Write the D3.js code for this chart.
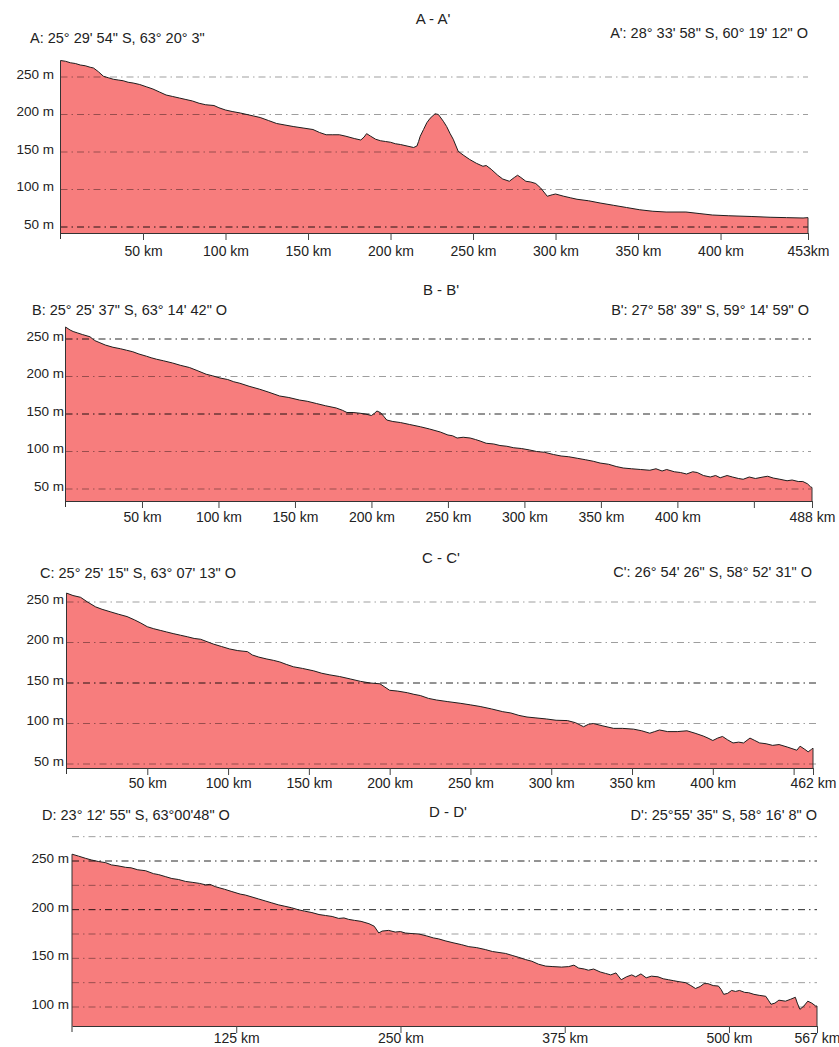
<!DOCTYPE html>
<html>
<head>
<meta charset="utf-8">
<script src="https://cdn.jsdelivr.net/npm/d3@7"></script>
<style>
  html, body { margin: 0; padding: 0; background: #fff; }
  svg text { font-family: "Liberation Sans", Arial, sans-serif; fill: #222; }
</style>
</head>
<body>
<div id="chart"></div>
<script>
// profile A - A'
const aKm = [0, 3, 6, 9, 12, 15, 18, 20, 23, 26, 29, 32, 35, 38, 41, 44, 48, 52, 56, 60, 64, 68, 72, 76, 80, 84, 88, 93, 96, 100,
  104, 109, 113, 117, 121, 126, 131, 136, 141, 147, 153, 157, 161, 165, 169, 173, 178, 182, 184, 185.5, 188, 191, 194, 197, 200,
  203, 206, 210, 214, 216, 217, 218, 220, 222, 224, 227, 229, 230, 232, 234, 236, 238, 241, 244, 248, 252, 256, 258, 261, 265,
  268, 272, 275, 277, 279, 282, 285, 288, 291, 295, 298, 300, 305, 309, 313, 320, 327, 335, 343, 351, 359, 367, 379, 387, 395,
  405, 419, 430, 440, 450, 453];
const aElev = [272, 271, 269, 268, 266, 265, 263, 262, 257, 251, 249, 247, 246, 245, 243, 242, 240, 237, 234, 230, 226, 224, 222, 220, 218, 215, 213, 212, 209, 206,
  204, 202, 200, 198, 196, 192, 188, 186, 184, 182, 180, 176, 173, 173, 173, 171, 168, 166, 170, 174.5, 171, 167, 165, 164, 163,
  161, 160, 158, 156, 158, 164, 171, 180, 189, 195, 201, 200, 197, 191, 184, 175, 167, 151, 146, 140, 135, 131, 132, 127, 119,
  114, 111, 116, 119, 116, 111, 110, 108, 102, 91, 93, 94, 91, 89, 87, 85, 82, 79, 76, 73, 71, 70, 70, 68, 66,
  65, 64, 63, 62.5, 62, 62.5];

// profile B - B'
const bKm = [0, 3, 5, 8, 11, 16, 19, 22.5, 26, 31, 36, 40, 44, 48, 53, 56, 59.6, 64, 70, 75, 81, 86, 92, 96, 101, 106, 110, 114, 120,
  127, 133, 140, 146, 153, 158, 164, 170, 177, 181, 184, 188, 192.6, 196, 200, 202, 203.6, 206, 208, 210, 214, 219, 225, 232, 238,
  245, 250, 253, 256, 260, 264.5, 268, 271, 275, 280, 284, 288.5, 293, 298, 303.5, 308, 313, 319, 324, 329, 334.5, 340, 345,
  349.5, 355, 360, 364.6, 370, 376, 382, 386, 390, 393, 398, 402, 406, 410, 413, 417, 421.5, 425, 428, 432.5, 436, 440, 443,
  447, 451, 456, 459, 462.7, 467, 471.7, 475, 479, 482, 485, 487, 488];
const bElev = [266, 262, 260, 258, 256, 253, 248, 245, 242, 239, 237, 235, 233, 230, 227, 225, 223, 221, 218, 215, 212, 208, 203, 201, 198, 196, 193, 191, 187,
  183, 179, 174, 172, 168.6, 167, 164, 161, 158, 155, 152, 152, 151, 150, 148, 151, 154, 151.7, 147, 142, 140, 138.6, 136, 133, 130,
  126, 122, 121, 118, 119, 118, 116, 114, 111, 110, 108, 107, 105, 104, 102, 100, 99, 96, 94, 93, 91, 89, 87,
  84.6, 83, 80, 78, 77, 76, 75, 77, 74, 76, 73, 72, 70, 73, 72, 68, 66, 68, 65, 68, 66, 64, 63,
  66, 64, 66, 67, 64.6, 63, 61, 62, 60, 60, 57, 53, 52];

// profile C - C'
const cKm = [0, 4, 8.7, 13, 18, 22, 27, 32, 37.5, 42, 46, 50, 54, 58, 62, 66, 70.5, 75, 79, 83, 87, 91, 96, 101, 106, 112, 115, 119,
  124, 128, 132, 136, 140.5, 146, 153, 158, 163, 169, 175.6, 182, 188, 194, 197, 200, 205, 211, 215, 219, 224, 229, 236, 243.6,
  250, 256, 263, 270, 275, 280, 285, 290, 297, 303, 310, 315, 320, 323, 326, 332, 338.6, 344, 351, 356, 361, 364, 367, 372,
  378, 384, 389, 394, 397, 400, 403, 406, 409, 412.5, 416, 419, 423, 426, 429, 433, 437, 441, 446, 449, 452, 454, 457, 459,
  461, 462];
const cElev = [261, 258, 255.8, 250, 244, 241, 238, 235, 232, 228, 224, 219.5, 217, 215, 213, 211, 209, 207, 205, 204, 201, 198, 195, 192, 190, 188.7, 184.6, 182,
  179.6, 178, 176, 173, 170, 168, 165, 162, 160, 158, 155, 152, 150, 149, 145, 141, 140, 138, 136, 134.5, 131, 129, 127, 125,
  123, 121, 118, 114.6, 113, 110, 108, 107, 105.6, 104, 103.6, 101, 96, 99, 100, 97, 94, 94, 93, 91, 88, 90, 92, 90,
  90, 91, 88, 84.6, 82, 79, 82, 84, 80, 76, 77, 76, 82, 79, 76, 75, 73, 74, 71, 69, 67, 72, 68, 65,
  68, 69.6];

// profile D - D'
const dKm = [0, 5, 10.4, 15, 20, 25.6, 30, 35, 40.8, 45, 50, 56, 62, 66, 71, 76, 81, 86.5, 92, 97, 101.7, 105, 109, 112, 116, 121.7,
  128, 132, 137, 142, 147, 152, 157, 162, 167, 172, 177, 182.6, 188, 193, 198, 203, 207, 210.6, 215, 220, 226, 230, 233.5, 236,
  241, 246, 250, 253.7, 258, 264, 270, 275, 279, 284, 290, 296.6, 302, 308, 314.6, 320, 325, 330, 335, 340, 345, 350, 355,
  360.5, 366, 372.6, 378, 382, 385.6, 390, 393, 397, 402, 406, 410, 414, 418, 422, 426, 429, 433, 437, 441, 446, 450, 454,
  458, 462, 467, 471, 474.5, 478, 481, 484, 488, 492, 494, 496, 499, 502, 505, 508, 512, 515, 519, 523, 528, 530, 532, 535,
  538, 543, 547, 550.5, 552, 554, 557, 560, 563, 566, 567];
const dElev = [257, 255, 252.7, 251, 249.5, 248.3, 246, 245, 243.5, 243, 241, 240, 237, 236, 234, 232, 231, 229, 228, 227, 225.5, 226, 223.7, 222.5, 221, 218.6,
  216, 215, 213, 211, 209, 207, 205, 203.5, 202, 200, 198.5, 197, 195, 194, 193, 191, 191.5, 190, 189, 188, 185.6, 183, 176, 178,
  178.7, 177, 177.5, 176, 175.5, 175, 173, 171, 170, 168, 166, 164, 162, 161, 159, 157, 156, 155, 153, 151, 148.8, 147, 144,
  142, 141.5, 141, 141.5, 143, 140, 139, 137.8, 139, 136, 134.5, 133, 135, 128, 131, 133, 131, 134, 130, 131.7, 131, 129, 128,
  127, 126, 125, 122, 119, 121, 124, 124, 122, 121.5, 118, 113, 114, 117, 116, 117, 115, 114.7, 113, 112, 111, 107, 102.8, 104,
  107, 106, 108, 110, 104, 97.6, 101, 106, 104, 101, 101];

// axes
const abcGrid = [250, 200, 150, 100, 50];
const abcYTicks = [250, 200, 150, 100, 50];
const dGrid = [275, 250, 225, 200, 175, 150, 125, 100];
const dYTicks = [250, 200, 150, 100];
const aGridDark = [50];
const bGridDark = [250, 150];
const cGridDark = [150];
const dGridDark = [250, 200];
const aTicks = [50, 100, 150, 200, 250, 300, 350, 400, 453];
const aTickLabels = ["50 km", "100 km", "150 km", "200 km", "250 km", "300 km", "350 km", "400 km", "453km"];
const bTicks = [50, 100, 150, 200, 250, 300, 350, 400, 450, 488];
const bTickLabels = ["50 km", "100 km", "150 km", "200 km", "250 km", "300 km", "350 km", "400 km", "", "488 km"];
const cTicks = [50, 100, 150, 200, 250, 300, 350, 400, 450, 462];
const cTickLabels = ["50 km", "100 km", "150 km", "200 km", "250 km", "300 km", "350 km", "400 km", "", "462 km"];
const dTicks = [125, 250, 375, 500, 567];
const dTickLabels = ["125 km", "250 km", "375 km", "500 km", "567 km"];

const width = 839;
const height = 1047;

const panels = [
  { title: "A - A'", start: "A: 25° 29' 54\" S, 63° 20° 3\"", end: "A': 28° 33' 58\" S, 60° 19' 12\" O",
    km: aKm, elev: aElev, grid: abcGrid, dark: aGridDark, yTicks: abcYTicks, ticks: aTicks, tickLabels: aTickLabels,
    x0: 60.5, x1: 808, gridEnd: 808, yHi: 77, yLo: 227, vHi: 250, vLo: 50, base: 233,
    titleX: 433, titleY: 24, startX: 30, startY: 43, endX: 808, endY: 38, yLabelX: 54, labelDy: 21 },
  { title: "B - B'", start: "B: 25° 25' 37\" S, 63° 14' 42\" O", end: "B': 27° 58' 39\" S, 59° 14' 59\" O",
    km: bKm, elev: bElev, grid: abcGrid, dark: bGridDark, yTicks: abcYTicks, ticks: bTicks, tickLabels: bTickLabels,
    x0: 65.5, x1: 812, gridEnd: 811, yHi: 339, yLo: 489, vHi: 250, vLo: 50, base: 501,
    titleX: 441, titleY: 295, startX: 32, startY: 315, endX: 809, endY: 315, yLabelX: 64, labelDy: 19 },
  { title: "C - C'", start: "C: 25° 25' 15\" S, 63° 07' 13\" O", end: "C': 26° 54' 26\" S, 58° 52' 31\" O",
    km: cKm, elev: cElev, grid: abcGrid, dark: cGridDark, yTicks: abcYTicks, ticks: cTicks, tickLabels: cTickLabels,
    x0: 66.5, x1: 813, gridEnd: 818, yHi: 602, yLo: 764, vHi: 250, vLo: 50, base: 768,
    titleX: 441, titleY: 563, startX: 40, startY: 578, endX: 812, endY: 577, yLabelX: 64, labelDy: 18 },
  { title: "D - D'", start: "D: 23° 12' 55\" S, 63°00'48\" O", end: "D': 25°55' 35\" S, 58° 16' 8\" O",
    km: dKm, elev: dElev, grid: dGrid, dark: dGridDark, yTicks: dYTicks, ticks: dTicks, tickLabels: dTickLabels,
    x0: 72, x1: 817, gridEnd: 817, yHi: 861, yLo: 1007, vHi: 250, vLo: 100, base: 1026,
    titleX: 448, titleY: 817, startX: 42, startY: 820, endX: 817, endY: 820, yLabelX: 69, labelDy: 15 }
];

const svg = d3.select("#chart").append("svg")
  .attr("width", width)
  .attr("height", height)
  .style("background", "#fff");

panels.forEach(p => {
  const points = p.km.map((k, i) => ({ km: k, elev: p.elev[i] }));
  const last = p.km[p.km.length - 1];
  const x = d3.scaleLinear().domain([0, last]).range([p.x0, p.x1]);
  const y = d3.scaleLinear().domain([p.vLo, p.vHi]).range([p.yLo, p.yHi]);
  const g = svg.append("g");

  // filled profile
  g.append("path")
    .datum(points)
    .attr("fill", "#f77d7d")
    .attr("d", d3.area().x(d => x(d.km)).y0(p.base).y1(d => y(d.elev)));

  // dash-dot reference lines, over the fill
  g.selectAll(".grid")
    .data(p.grid)
    .enter().append("line")
    .attr("x1", p.x0)
    .attr("x2", p.gridEnd)
    .attr("y1", d => y(d))
    .attr("y2", d => y(d))
    .attr("stroke", "#000")
    .attr("stroke-opacity", d => p.dark.includes(d) ? 0.85 : 0.38)
    .attr("stroke-width", 1)
    .attr("stroke-dasharray", "7,4,1.5,4");

  // outline on top of the terrain
  g.append("path")
    .datum(points)
    .attr("fill", "none")
    .attr("stroke", "#1e1e1e")
    .attr("stroke-width", 1)
    .attr("d", d3.line().x(d => x(d.km)).y(d => y(d.elev)));

  g.append("line")
    .attr("x1", x(last)).attr("x2", x(last))
    .attr("y1", y(p.elev[p.elev.length - 1])).attr("y2", p.base)
    .attr("stroke", "#333");

  g.append("line")
    .attr("x1", p.x0).attr("x2", p.x0)
    .attr("y1", y(p.elev[0])).attr("y2", p.base + 6)
    .attr("stroke", "#333");

  // distance axis
  const xAxis = g.append("g")
    .attr("transform", `translate(0,${p.base})`)
    .call(d3.axisBottom(x)
      .tickValues(p.ticks)
      .tickFormat((d, i) => p.tickLabels[i])
      .tickSize(7)
      .tickSizeOuter(0)
      .tickPadding(p.labelDy - 15));
  xAxis.select(".domain").attr("stroke", "#333");
  xAxis.selectAll(".tick line").attr("stroke", "#444");
  xAxis.selectAll("text")
    .attr("fill", "#222")
    .style("font-size", "14px")
    .style("font-family", "'Liberation Sans', Arial, sans-serif");

  // elevation labels
  const yAxis = g.append("g")
    .attr("transform", `translate(${p.yLabelX},0)`)
    .call(d3.axisLeft(y)
      .tickValues(p.yTicks)
      .tickFormat(d => d + " m")
      .tickSize(0)
      .tickPadding(0));
  yAxis.select(".domain").remove();
  yAxis.selectAll("text")
    .attr("fill", "#222")
    .attr("dy", "0.1em")
    .style("font-size", "13.5px")
    .style("font-family", "'Liberation Sans', Arial, sans-serif");

  g.append("text")
    .attr("x", p.titleX).attr("y", p.titleY)
    .attr("text-anchor", "middle")
    .style("font-size", "15px")
    .text(p.title);

  g.append("text")
    .attr("x", p.startX).attr("y", p.startY)
    .style("font-size", "14.5px")
    .text(p.start);

  g.append("text")
    .attr("x", p.endX).attr("y", p.endY)
    .attr("text-anchor", "end")
    .style("font-size", "14.5px")
    .text(p.end);
});
</script>
</body>
</html>
